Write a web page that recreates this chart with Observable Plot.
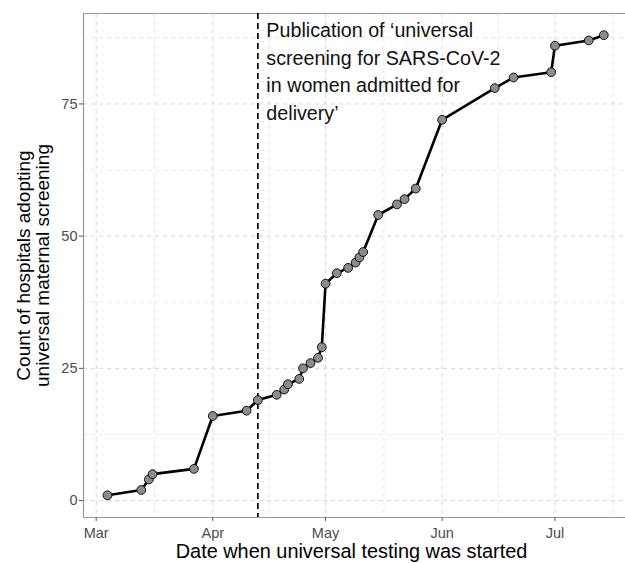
<!DOCTYPE html>
<html><head><meta charset="utf-8">
<script src="https://cdn.jsdelivr.net/npm/d3@7"></script>
<script src="https://cdn.jsdelivr.net/npm/@observablehq/plot@0.6"></script>
<style>body{margin:0;background:#fff}</style>
</head><body><div id="chart"></div>
<script>
const dates = ["2020-03-04","2020-03-13","2020-03-15","2020-03-16","2020-03-27","2020-04-01","2020-04-10","2020-04-13","2020-04-18","2020-04-20","2020-04-21","2020-04-24","2020-04-25","2020-04-27","2020-04-29","2020-04-30","2020-05-01","2020-05-04","2020-05-07","2020-05-09","2020-05-10","2020-05-11","2020-05-15","2020-05-20","2020-05-22","2020-05-25","2020-06-01","2020-06-15","2020-06-20","2020-06-30","2020-07-01","2020-07-10","2020-07-14"];
const counts = [1,2,4,5,6,16,17,19,20,21,22,23,25,26,27,29,41,43,44,45,46,47,54,56,57,59,72,78,80,81,86,87,88];
const monthTicks = ["2020-03-01","2020-04-01","2020-05-01","2020-06-01","2020-07-01"];
const minorDateTicks = ["2020-03-16T12:00Z","2020-04-16T00:00Z","2020-05-16T12:00Z","2020-06-16T00:00Z","2020-07-16T12:00Z"];
const yTicks = [0,25,50,75];
const yMinorTicks = [12.5,37.5,62.5,87.5];
const publicationDate = "2020-04-13";
const annotationText = "Publication of \u2018universal\nscreening for SARS-CoV-2\nin women admitted for\ndelivery\u2019";
const xTitle = "Date when universal testing was started";
const yTitle = "Count of hospitals adopting\nuniversal maternal screening";

const xDomain = [new Date("2020-02-26T15:00Z"), new Date("2020-07-19T18:30Z")];
const yDomain = [-3.2, 92.1];

const data = dates.map((d, i) => ({date: new Date(d), count: counts[i]}));
const majorX = monthTicks.map(d => new Date(d));
const minorX = minorDateTicks.map(d => new Date(d));
const pub = new Date(publicationDate);

const grid = {stroke: "#d6d6d6", strokeDasharray: "4,4", strokeWidth: 1};
const gridMinor = {stroke: "#e0e0e0", strokeDasharray: "4,4", strokeWidth: 0.8};

const chart = Plot.plot({
  width: 625, height: 563,
  marginTop: 13, marginBottom: 46, marginLeft: 83, marginRight: 0,
  style: {fontFamily: "'Liberation Sans', Arial, sans-serif", background: "#fff"},
  x: {type: "utc", domain: xDomain},
  y: {domain: yDomain},
  marks: [
    Plot.ruleX(minorX, gridMinor),
    Plot.ruleY(yMinorTicks, gridMinor),
    Plot.ruleX(majorX, grid),
    Plot.ruleY(yTicks, grid),
    Plot.ruleX([xDomain[0]], {stroke: "#9a9a9a", strokeWidth: 1.2}),
    Plot.ruleY([yDomain[0]], {stroke: "#9a9a9a", strokeWidth: 1.2}),
    Plot.ruleY([yDomain[1]], {stroke: "#9a9a9a", strokeWidth: 1.2}),
    Plot.axisX({ticks: majorX, tickFormat: d3.utcFormat("%b"), tickSize: 4, tickPadding: 6, fontSize: 14.5, stroke: "#555", fill: "#4d4d4d", label: null}),
    Plot.axisY({ticks: yTicks, tickSize: 4, tickPadding: 2, fontSize: 14.5, stroke: "#555", fill: "#4d4d4d", label: null}),
    Plot.ruleX([pub], {stroke: "#000", strokeWidth: 1.7, strokeDasharray: "6,4"}),
    Plot.line(data, {x: "date", y: "count", stroke: "#000", strokeWidth: 2.6}),
    Plot.dot(data, {x: "date", y: "count", r: 4.4, fill: "#8c8c8c", stroke: "#000", strokeWidth: 0.9}),
    Plot.text([annotationText], {x: () => pub, frameAnchor: "top", textAnchor: "start", lineAnchor: "top", dx: 8.5, dy: 4, fontSize: 19.7, lineHeight: 1.4, fill: "#111"}),
    Plot.text([xTitle], {frameAnchor: "bottom", lineAnchor: "middle", dx: -3, dy: 34.5, fontSize: 19.9, fill: "#000"}),
    Plot.text([yTitle], {frameAnchor: "left", textAnchor: "middle", lineAnchor: "middle", dx: -50, rotate: -90, lineHeight: 1.0, fontSize: 19, fill: "#000"})
  ]
});
document.getElementById("chart").appendChild(chart);
</script>
</body></html>
